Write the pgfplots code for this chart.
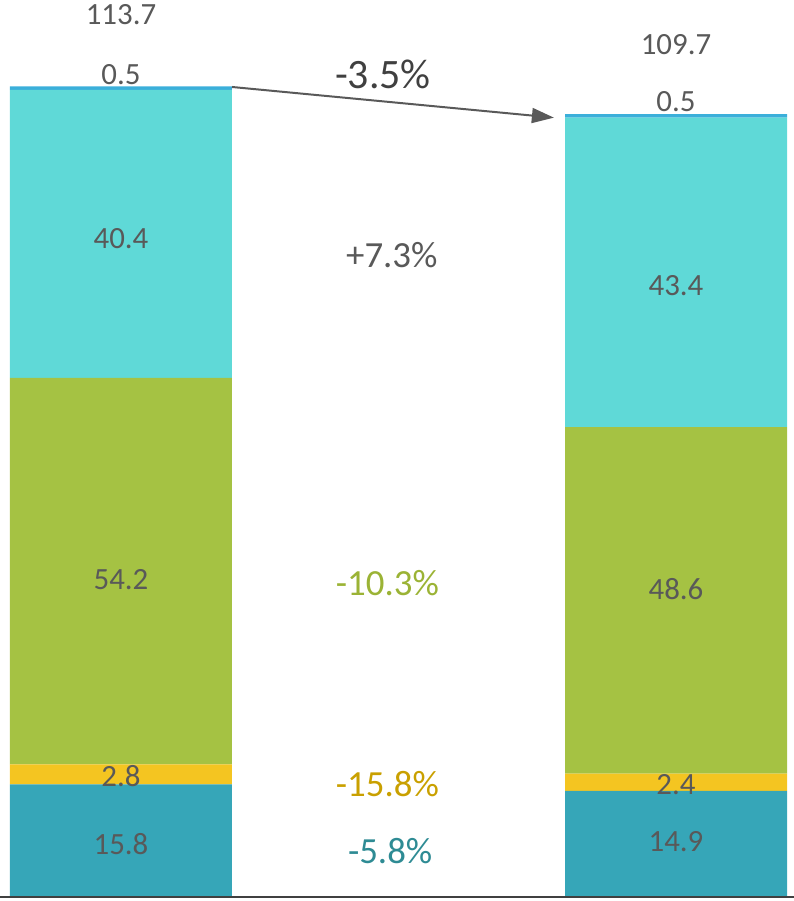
\documentclass[border=0pt]{standalone}
\usepackage{pgfplots}
\pgfplotsset{compat=1.18}
\usepackage{fontspec}
\setmainfont{Carlito}
\usetikzlibrary{arrows.meta}
\definecolor{cTeal}{HTML}{36A6B8}
\definecolor{cYellow}{HTML}{F4C521}
\definecolor{cGreen}{HTML}{A5C243}
\definecolor{cCyan}{HTML}{5FD9D7}
\definecolor{cBlue}{HTML}{3BAFDA}
\definecolor{txt}{HTML}{595959}
\definecolor{tOlive}{HTML}{9BB335}
\definecolor{tGold}{HTML}{C9A000}
\definecolor{tTeal}{HTML}{2E8B94}
\tikzset{
  lbl/.style={font=\fontsize{31}{36}\selectfont, text=txt, anchor=center},
  mid/.style={font=\fontsize{37}{42}\selectfont, anchor=center},
}
\begin{document}
\begin{tikzpicture}
\begin{axis}[
  scale only axis, width=794bp, height=901bp,
  axis x line=middle, axis y line=none, axis on top,
  axis line style={draw=black!75, line width=2bp, -},
  xtick=\empty, ytick=\empty, clip=false,
  xmin=-0.218, xmax=1.2126, ymin=-0.56, ymax=125.8,
  ybar stacked, bar width=0.4,
  every axis plot/.append style={draw=none},
]
\addplot[fill=cTeal] coordinates {(0,15.8)(1,14.9)};
\addplot[fill=cYellow] coordinates {(0,2.8)(1,2.4)};
\addplot[fill=cGreen] coordinates {(0,54.2)(1,48.6)};
\addplot[fill=cCyan] coordinates {(0,40.4)(1,43.4)};
\addplot[fill=cBlue] coordinates {(0,0.5)(1,0.5)};
% label anchors
\coordinate (a1) at (axis cs:0,7.4);
\coordinate (a2) at (axis cs:0,16.9);
\coordinate (a3) at (axis cs:0,44.5);
\coordinate (a4) at (axis cs:0,92.4);
\coordinate (a5) at (axis cs:0,115.4);
\coordinate (a6) at (axis cs:0,123.8);
\coordinate (b1) at (axis cs:1,7.8);
\coordinate (b2) at (axis cs:1,15.7);
\coordinate (b3) at (axis cs:1,43.2);
\coordinate (b4) at (axis cs:1,85.7);
\coordinate (b5) at (axis cs:1,111.5);
\coordinate (b6) at (axis cs:1,119.5);
\coordinate (m0) at (axis cs:0.472,115.3);
\coordinate (m1) at (axis cs:0.488,90.0);
\coordinate (m2) at (axis cs:0.48,44.0);
\coordinate (m3) at (axis cs:0.48,15.8);
\coordinate (m4) at (axis cs:0.485,6.4);
\coordinate (ar0) at (axis cs:0.2,113.6);
\coordinate (ar1) at (axis cs:0.78,109.3);
\end{axis}
\node[lbl] at (a1) {15.8};
\node[lbl] at (a2) {2.8};
\node[lbl] at (a3) {54.2};
\node[lbl] at (a4) {40.4};
\node[lbl] at (a5) {0.5};
\node[lbl] at (a6) {113.7};
\node[lbl] at (b1) {14.9};
\node[lbl] at (b2) {2.4};
\node[lbl] at (b3) {48.6};
\node[lbl] at (b4) {43.4};
\node[lbl] at (b5) {0.5};
\node[lbl] at (b6) {109.7};
\node[font=\fontsize{42}{48}\selectfont, text=black!75] at (m0) {-3.5\%};
\node[mid, text=txt] at (m1) {+7.3\%};
\node[mid, text=tOlive] at (m2) {-10.3\%};
\node[mid, text=tGold] at (m3) {-15.8\%};
\node[mid, text=tTeal] at (m4) {-5.8\%};
\draw[txt, line width=2bp, -{Triangle[length=22bp,width=15bp]}] (ar0) -- (ar1);
\pgfresetboundingbox
\path (current axis.south west) rectangle (current axis.north east);
\end{tikzpicture}
\end{document}
